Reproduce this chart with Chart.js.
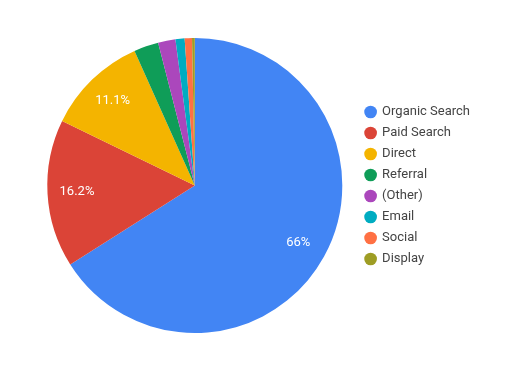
<!DOCTYPE html>
<html>
<head>
<meta charset="utf-8">
<script src="https://cdn.jsdelivr.net/npm/chart.js@4/dist/chart.umd.min.js"></script>
<style>
  html, body { margin: 0; padding: 0; background: #fff; }
  #wrap { width: 508px; height: 388px; position: relative; }
</style>
</head>
<body>
<div id="wrap"><canvas id="c" width="508" height="388"></canvas></div>
<script>
const categories = ["Organic Search", "Paid Search", "Direct", "Referral", "(Other)", "Email", "Social", "Display"];
const shares = [66, 16.2, 11.1, 2.7, 1.9, 1.0, 0.8, 0.3];
const sliceColors = ["#4285f4", "#db4437", "#f4b400", "#0f9d58", "#ab47bc", "#00acc1", "#ff7043", "#9e9d24"];

const sliceLabels = {
  id: 'sliceLabels',
  afterDatasetsDraw(chart) {
    const ctx = chart.ctx;
    const meta = chart.getDatasetMeta(0);
    const data = chart.data.datasets[0].data;
    ctx.save();
    ctx.fillStyle = '#ffffff';
    ctx.font = '13px Roboto';
    ctx.textAlign = 'center';
    ctx.textBaseline = 'middle';
    meta.data.forEach((arc, i) => {
      if (data[i] < 5) return;
      const p = arc.getProps(['x', 'y', 'startAngle', 'endAngle', 'outerRadius'], true);
      const mid = (p.startAngle + p.endAngle) / 2;
      const r = p.outerRadius * 0.8;
      ctx.fillText(data[i] + '%', p.x + Math.cos(mid) * r, p.y + Math.sin(mid) * r);
    });
    ctx.restore();
  }
};

new Chart(document.getElementById('c'), {
  type: 'pie',
  data: {
    labels: categories,
    datasets: [{
      data: shares,
      backgroundColor: sliceColors,
      borderWidth: 0
    }]
  },
  options: {
    responsive: false,
    animation: false,
    layout: { padding: { top: 38, bottom: 55, left: 32, right: 28 } },
    plugins: {
      tooltip: { enabled: false },
      legend: {
        position: 'right',
        labels: {
          usePointStyle: true,
          pointStyle: 'circle',
          boxWidth: 10,
          boxHeight: 9,
          padding: 8,
          color: '#444444',
          font: { family: 'Roboto', size: 13 }
        }
      }
    }
  },
  plugins: [sliceLabels]
});
</script>
</body>
</html>
